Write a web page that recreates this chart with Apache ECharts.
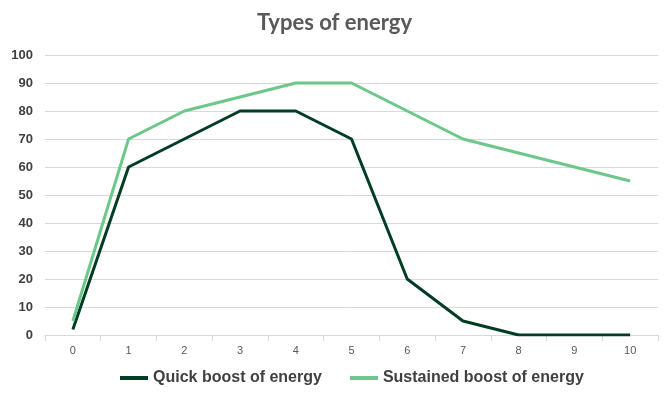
<!DOCTYPE html>
<html><head><meta charset="utf-8">
<script src="https://cdn.jsdelivr.net/npm/echarts@6/dist/echarts.min.js"></script>
<style>html,body{margin:0;padding:0;background:#fff}#c{width:669px;height:401px}</style>
</head><body><div id="c"></div>
<script>
const categories = ['0','1','2','3','4','5','6','7','8','9','10'];
const quickBoost = [2,60,70,80,80,70,20,5,0,0,0];
const sustainedBoost = [5,70,80,85,90,90,80,70,65,60,55];
const yTicks = {min:0,max:100,interval:10};

const chart = echarts.init(document.getElementById('c'));
chart.setOption({
  animation:false,
  backgroundColor:'#fff',
  title:{text:'Types of energy',left:'center',top:7,
    textStyle:{fontFamily:'Lato',fontWeight:'bold',fontSize:22,color:'#595959'}},
  legend:{bottom:10,left:115,itemWidth:28,itemHeight:4,itemGap:28,icon:'rect',
    textStyle:{fontFamily:'Liberation Sans',fontWeight:'bold',fontSize:16,color:'#404040'},
    data:['Quick boost of energy','Sustained boost of energy']},
  grid:{left:45,right:11,top:55,bottom:66},
  xAxis:{type:'category',data:categories,boundaryGap:true,
    axisLine:{lineStyle:{color:'#d9d9d9'}},
    axisTick:{show:true,length:6,lineStyle:{color:'#d9d9d9'}},
    axisLabel:{color:'#595959',fontSize:11,fontFamily:'Liberation Sans',margin:10}},
  yAxis:{type:'value',min:yTicks.min,max:yTicks.max,interval:yTicks.interval,
    axisLine:{show:false},axisTick:{show:false},
    splitLine:{lineStyle:{color:'#d9d9d9'}},
    axisLabel:{color:'#404040',fontSize:13,fontWeight:'bold',fontFamily:'Liberation Sans',margin:12}},
  series:[
    {name:'Quick boost of energy',type:'line',data:quickBoost,symbol:'none',
      lineStyle:{width:3,color:'#003d22'},itemStyle:{color:'#003d22'}},
    {name:'Sustained boost of energy',type:'line',data:sustainedBoost,symbol:'none',
      lineStyle:{width:3,color:'#6cc78a'},itemStyle:{color:'#6cc78a'}}
  ]
});
</script></body></html>
